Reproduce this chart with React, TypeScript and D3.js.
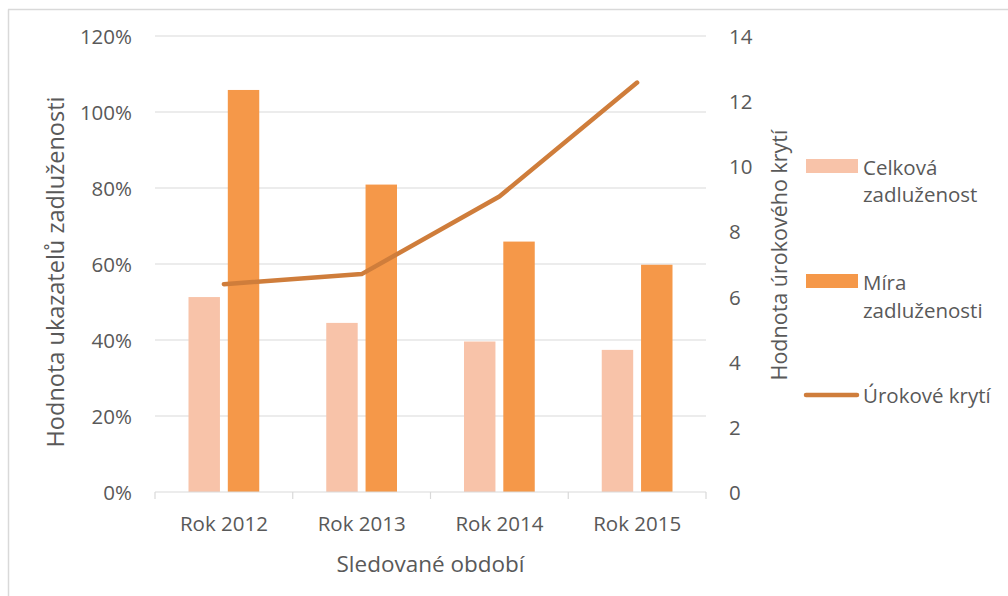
import React from "react";
import * as d3 from "d3";

// Sledované období
const categories = ["Rok 2012", "Rok 2013", "Rok 2014", "Rok 2015"];
// Ukazatele zadluženosti (v %)
const celkovaZadluzenost = [51.3, 44.5, 39.6, 37.4];
const miraZadluzenosti = [105.8, 80.9, 65.9, 59.8];
// Úrokové krytí (pravá osa)
const urokoveKryti = [6.38, 6.69, 9.07, 12.57];

const leftTicks = [0, 20, 40, 60, 80, 100, 120];
const rightTicks = [0, 2, 4, 6, 8, 10, 12, 14];

const seriesNames = ["Celková zadluženost", "Míra zadluženosti"];
const colors = {
  celkova: "#F8C3A9",
  mira: "#F59849",
  kryti: "#CF7D3B",
  text: "#595959",
  grid: "#D9D9D9",
};

const W = 1008;
const H = 596;
const plot = { left: 155, right: 706, top: 36, bottom: 492 };
const FONT = "'Open Sans', 'Noto Sans', sans-serif";
const TICK_FS = 20.5;

export default function App() {
  const x0 = d3
    .scaleBand<string>()
    .domain(categories)
    .range([plot.left, plot.right])
    .padding(0);
  const x1 = d3
    .scaleBand<string>()
    .domain(seriesNames)
    .range([33.5, x0.bandwidth() - 33.5])
    .paddingInner(0.2)
    .paddingOuter(0);
  const yL = d3.scaleLinear().domain([0, 120]).range([plot.bottom, plot.top]);
  const yR = d3.scaleLinear().domain([0, 14]).range([plot.bottom, plot.top]);

  const line = d3
    .line<number>()
    .x((_, i) => (x0(categories[i]) as number) + x0.bandwidth() / 2)
    .y((d) => yR(d));

  const series = [
    { name: seriesNames[0], values: celkovaZadluzenost, color: colors.celkova },
    { name: seriesNames[1], values: miraZadluzenosti, color: colors.mira },
  ];

  const boundaries = [...categories.map((c) => x0(c) as number), plot.right];

  return (
    <svg
      width={W}
      height={H}
      style={{ position: "absolute", left: 0, top: 0, background: "#fff" }}
      fontFamily={FONT}
    >
      <rect x={0} y={0} width={W} height={H} fill="#fff" />
      {/* chart area frame */}
      <line x1={8.5} x2={8.5} y1={9.5} y2={H} stroke={colors.grid} strokeWidth={1.5} />
      <line x1={8} x2={W} y1={9.5} y2={9.5} stroke={colors.grid} strokeWidth={1.5} />

      {/* gridlines */}
      {leftTicks.slice(1).map((t) => (
        <line
          key={t}
          x1={plot.left}
          x2={plot.right}
          y1={yL(t)}
          y2={yL(t)}
          stroke={colors.grid}
          strokeWidth={1.2}
        />
      ))}

      {/* bars */}
      {series.map((s) =>
        s.values.map((v, i) => {
          const x = (x0(categories[i]) as number) + (x1(s.name) as number);
          return (
            <rect
              key={s.name + i}
              x={x}
              y={yL(v)}
              width={x1.bandwidth()}
              height={yL(0) - yL(v)}
              fill={s.color}
            />
          );
        })
      )}

      {/* category axis */}
      <line
        x1={plot.left}
        x2={plot.right}
        y1={plot.bottom}
        y2={plot.bottom}
        stroke={colors.grid}
        strokeWidth={1.2}
      />
      {boundaries.map((b, i) => (
        <line
          key={i}
          x1={b}
          x2={b}
          y1={plot.bottom}
          y2={plot.bottom + 7}
          stroke={colors.grid}
          strokeWidth={1.2}
        />
      ))}

      {/* line series */}
      <path
        d={line(urokoveKryti) as string}
        fill="none"
        stroke={colors.kryti}
        strokeWidth={4.5}
        strokeLinecap="round"
        strokeLinejoin="round"
      />

      {/* left axis labels */}
      {leftTicks.map((t) => (
        <text
          key={t}
          x={132}
          y={yL(t)}
          textAnchor="end"
          dominantBaseline="central"
          fontSize={TICK_FS}
          fill={colors.text}
        >
          {t}%
        </text>
      ))}

      {/* right axis labels */}
      {rightTicks.map((t) => (
        <text
          key={t}
          x={729}
          y={yR(t)}
          textAnchor="start"
          dominantBaseline="central"
          fontSize={TICK_FS}
          fill={colors.text}
        >
          {t}
        </text>
      ))}

      {/* category labels */}
      {categories.map((c) => (
        <text
          key={c}
          x={(x0(c) as number) + x0.bandwidth() / 2}
          y={523}
          textAnchor="middle"
          dominantBaseline="central"
          fontSize={TICK_FS}
          fill={colors.text}
        >
          {c}
        </text>
      ))}

      {/* axis titles */}
      <text
        x={(plot.left + plot.right) / 2}
        y={563}
        textAnchor="middle"
        dominantBaseline="central"
        fontSize={22.5}
        fill={colors.text}
      >
        Sledované období
      </text>
      <text
        transform={`translate(55, 272) rotate(-90)`}
        textAnchor="middle"
        dominantBaseline="central"
        fontSize={23.5}
        fill={colors.text}
      >
        Hodnota ukazatelů zadluženosti
      </text>
      <text
        transform={`translate(778, 255) rotate(-90)`}
        textAnchor="middle"
        dominantBaseline="central"
        fontSize={21.5}
        fill={colors.text}
      >
        Hodnota úrokového krytí
      </text>

      {/* legend */}
      <rect x={806} y={159} width={52} height={14} fill={colors.celkova} />
      <text x={863} y={167} dominantBaseline="central" fontSize={TICK_FS} fill={colors.text}>
        Celková
      </text>
      <text x={863} y={194} dominantBaseline="central" fontSize={TICK_FS} fill={colors.text}>
        zadluženost
      </text>

      <rect x={806} y={274} width={52} height={14} fill={colors.mira} />
      <text x={863} y={282} dominantBaseline="central" fontSize={TICK_FS} fill={colors.text}>
        Míra
      </text>
      <text x={863} y={310} dominantBaseline="central" fontSize={TICK_FS} fill={colors.text}>
        zadluženosti
      </text>

      <line
        x1={806}
        x2={857}
        y1={395}
        y2={395}
        stroke={colors.kryti}
        strokeWidth={4.5}
        strokeLinecap="round"
      />
      <text x={863} y={395} dominantBaseline="central" fontSize={TICK_FS} fill={colors.text}>
        Úrokové krytí
      </text>
    </svg>
  );
}
